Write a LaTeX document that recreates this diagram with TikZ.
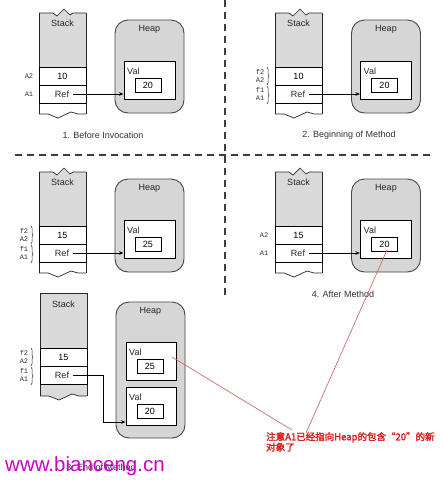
\documentclass[tikz,border=0pt]{standalone}
\usepackage{fontspec}
\setmainfont{Liberation Sans}
\newfontfamily\monof{Liberation Mono}
\newfontfamily\cjk[AutoFakeBold=2.5]{Noto Sans CJK SC}
\usetikzlibrary{arrows.meta,decorations.pathreplacing}
\definecolor{stackgray}{RGB}{218,218,218}
\definecolor{heapgray}{RGB}{214,214,214}
\definecolor{edge}{RGB}{70,70,70}
\definecolor{notered}{RGB}{215,35,35}
\definecolor{linered}{RGB}{205,90,90}
\definecolor{wm}{RGB}{200,0,200}
\definecolor{dashgray}{RGB}{60,60,60}

% #1 x0, #2 top, #3 cell top, #4 cell bottom, #5 bottom, #6 bottom fill, #7 zig top (1/0)
\newcommand{\stackbody}[7]{%
  \ifnum#7=1
    \fill[stackgray] (#1,#2) -- ({#1+14},#2) -- ({#1+18},{#2+3}) -- ({#1+25},{#2-4}) -- ({#1+31},{#2+2}) -- ({#1+34},#2) -- ({#1+47},#2) -- ({#1+47},#3) -- (#1,#3) -- cycle;
    \draw[stackline] (#1,#2) -- ({#1+14},#2) -- ({#1+18},{#2+3}) -- ({#1+25},{#2-4}) -- ({#1+31},{#2+2}) -- ({#1+34},#2) -- ({#1+47},#2);
  \else
    \fill[stackgray] (#1,#2) rectangle ({#1+47},#3);
    \draw[stackline] (#1,#2) -- ({#1+47},#2);
  \fi
  \fill[#6] (#1,#4) -- ({#1+47},#4) -- ({#1+47},#5) -- ({#1+39},#5) -- ({#1+32},{#5-2}) -- ({#1+19},{#5+4}) -- ({#1+9},#5) -- (#1,#5) -- cycle;
  \draw[stackline] (#1,#5) -- ({#1+9},#5) -- ({#1+19},{#5+4}) -- ({#1+32},{#5-2}) -- ({#1+39},#5) -- ({#1+47},#5);
  \draw[stackline] (#1,#2) -- (#1,#5);
  \draw[stackline] ({#1+47},#2) -- ({#1+47},#5);
}

\tikzset{
  stackline/.style={draw=black!85, line width=0.7pt},
  cell/.style={draw=black, line width=1pt, minimum width=47pt, minimum height=18pt, inner sep=0pt, font=\fontsize{9}{10}\selectfont},
  txt/.style={inner sep=1pt, font=\fontsize{9}{10}\selectfont, text=black!85},
  captxt/.style={inner sep=1pt, font=\fontsize{9}{10}\selectfont, text=black!80},
  lbl/.style={inner sep=0pt, font=\monof\fontsize{7}{7.5}\selectfont, text=black!80, align=center},
  heap/.style={draw=edge, fill=heapgray, line width=0.9pt, rounded corners=13pt, minimum width=69pt, inner sep=0pt},
  valbox/.style={draw=black, fill=white, line width=1pt, minimum width=51pt, minimum height=38pt, inner sep=0pt},
  numbox/.style={draw=black, fill=white, line width=0.9pt, minimum width=26pt, minimum height=14pt, inner sep=0pt, font=\fontsize{9}{10}\selectfont},
  refarrow/.style={draw=black, line width=0.8pt, -{Stealth[length=4.5pt,width=3.5pt]}},
  brc/.style={draw=black!80, line width=0.5pt, decorate, decoration={brace, amplitude=2pt}},
  divider/.style={draw=dashgray, line width=1.3pt, dash pattern=on 7pt off 5pt},
  redline/.style={draw=linered, line width=0.6pt},
}

\begin{document}
\begin{tikzpicture}[x=1pt, y=-1pt]
\useasboundingbox (0,0) rectangle (443,480);
\fill[white] (0,0) rectangle (443,480);

% dividers
\draw[divider] (15,155) -- (430,155);
\draw[divider] (225,0) -- (225,297);

% ===== Panel 1 =====
\stackbody{39}{13}{67}{103}{114}{white}{1}
\node[txt] (p1st) at (62.5,23) {Stack};
\node[cell] (p1a) at (62.5,76) {10};
\node[cell] (p1b) at (62.5,94) {};
\node[txt] (p1ref) at (62,94) {Ref};
\node[lbl] (p1l2) at (29,76) {A2};
\node[lbl] (p1l1) at (29,94) {A1};
\node[heap, minimum height=93pt] (p1h) at (149.5,66.5) {};
\node[txt] (p1ht) at (149.5,29) {Heap};
\node[valbox] (p1v) at (149.5,80) {};
\node[txt, anchor=west] (p1vt) at (126,71) {Val};
\node[numbox] (p1n) at (148,85) {20};
\draw[refarrow] ([xshift=3pt]p1ref.east) -- (p1ref -| p1v.west);
\node[captxt] (p1c) at (103,135) {1. Before Invocation};

% ===== Panel 2 =====
\stackbody{275}{13}{67}{103}{114}{white}{1}
\node[txt] (p2st) at (298.5,23) {Stack};
\node[cell] (p2a) at (298.5,76) {10};
\node[cell] (p2b) at (298.5,94) {};
\node[txt] (p2ref) at (298,94) {Ref};
\node[lbl] (p2l2) at (260,76) {f2\\A2};
\node[lbl] (p2l1) at (260,94) {f1\\A1};
\draw[brc] (267,67) -- (267,85);
\draw[brc] (267,86) -- (267,104);
\node[heap, minimum height=93pt] (p2h) at (386,66.5) {};
\node[txt] (p2ht) at (386,29) {Heap};
\node[valbox] (p2v) at (386,80) {};
\node[txt, anchor=west] (p2vt) at (362.5,71) {Val};
\node[numbox] (p2n) at (384.5,85) {20};
\draw[refarrow] ([xshift=3pt]p2ref.east) -- (p2ref -| p2v.west);
\node[captxt] (p2c) at (349,135) {2. Beginning of Method};

% ===== Panel 3 (top-left, lower) =====
\stackbody{39}{172}{226}{262}{273}{white}{1}
\node[txt] (p3st) at (62.5,182) {Stack};
\node[cell] (p3a) at (62.5,235) {15};
\node[cell] (p3b) at (62.5,253) {};
\node[txt] (p3ref) at (62,253) {Ref};
\node[lbl] (p3l2) at (24,235) {f2\\A2};
\node[lbl] (p3l1) at (24,253) {f1\\A1};
\draw[brc] (31,226) -- (31,244);
\draw[brc] (31,245) -- (31,263);
\node[heap, minimum height=93pt] (p3h) at (149.5,225.5) {};
\node[txt] (p3ht) at (149.5,188) {Heap};
\node[valbox] (p3v) at (149.5,239) {};
\node[txt, anchor=west] (p3vt) at (126,230) {Val};
\node[numbox] (p3n) at (148,244) {25};
\draw[refarrow] ([xshift=3pt]p3ref.east) -- (p3ref -| p3v.west);

% ===== Panel 4 =====
\stackbody{275}{172}{226}{262}{273}{white}{1}
\node[txt] (p4st) at (298.5,182) {Stack};
\node[cell] (p4a) at (298.5,235) {15};
\node[cell] (p4b) at (298.5,253) {};
\node[txt] (p4ref) at (298,253) {Ref};
\node[lbl] (p4l2) at (264,235) {A2};
\node[lbl] (p4l1) at (264,253) {A1};
\node[heap, minimum height=93pt] (p4h) at (386,225.5) {};
\node[txt] (p4ht) at (386,188) {Heap};
\node[valbox] (p4v) at (386,239) {};
\node[txt, anchor=west] (p4vt) at (362.5,230) {Val};
\node[numbox] (p4n) at (384.5,244) {20};
\draw[refarrow] ([xshift=3pt]p4ref.east) -- (p4ref -| p4v.west);
\node[captxt] (p4c) at (343,294) {4. After Method};

% ===== Panel 5 (bottom) =====
\stackbody{40}{293}{348}{384}{396}{stackgray}{0}
\node[txt] (p5st) at (63.5,304) {Stack};
\node[cell] (p5a) at (63.5,357) {15};
\node[cell] (p5b) at (63.5,375) {};
\node[txt] (p5ref) at (62,375) {Ref};
\node[lbl] (p5l2) at (24,357) {f2\\A2};
\node[lbl] (p5l1) at (24,375) {f1\\A1};
\draw[brc] (31,348) -- (31,366);
\draw[brc] (31,367) -- (31,385);
\node[heap, minimum height=136pt] (p5h) at (150.5,370) {};
\node[txt] (p5ht) at (150.5,311) {Heap};
\node[valbox, minimum width=50pt] (p5v1) at (151,361) {};
\node[txt, anchor=west] (p5vt1) at (128,352) {Val};
\node[numbox] (p5n1) at (150,366) {25};
\node[valbox, minimum width=50pt] (p5v2) at (151,406) {};
\node[txt, anchor=west] (p5vt2) at (128,397) {Val};
\node[numbox] (p5n2) at (150,411) {20};
\coordinate (p5k) at (103,422);
\draw[refarrow] ([xshift=3pt]p5ref.east) -| (p5k) -- (p5k -| p5v2.west);
\node[captxt] (p5c) at (101,467) {3. End of Method};

% ===== annotation =====
\coordinate (ra) at (172,357);
\coordinate (rb) at (387,250);
\coordinate (rae) at (292,430);
\coordinate (rbe) at (306,433);
\draw[redline] (ra) -- (rae);
\draw[redline] (rb) -- (rbe);
\node[anchor=north west, inner sep=0pt, align=left, text=notered,
      font=\cjk\bfseries\fontsize{9.5}{10.5}\selectfont] (note) at (266,432)
      {注意A1已经指向Heap的包含“20”的新\\对象了};

% watermark
\node[anchor=base west, inner sep=0pt, text=wm, font=\fontsize{20.5}{22}\selectfont] (wmk) at (5,471.5) {www.bianceng.cn};
\end{tikzpicture}
\end{document}
